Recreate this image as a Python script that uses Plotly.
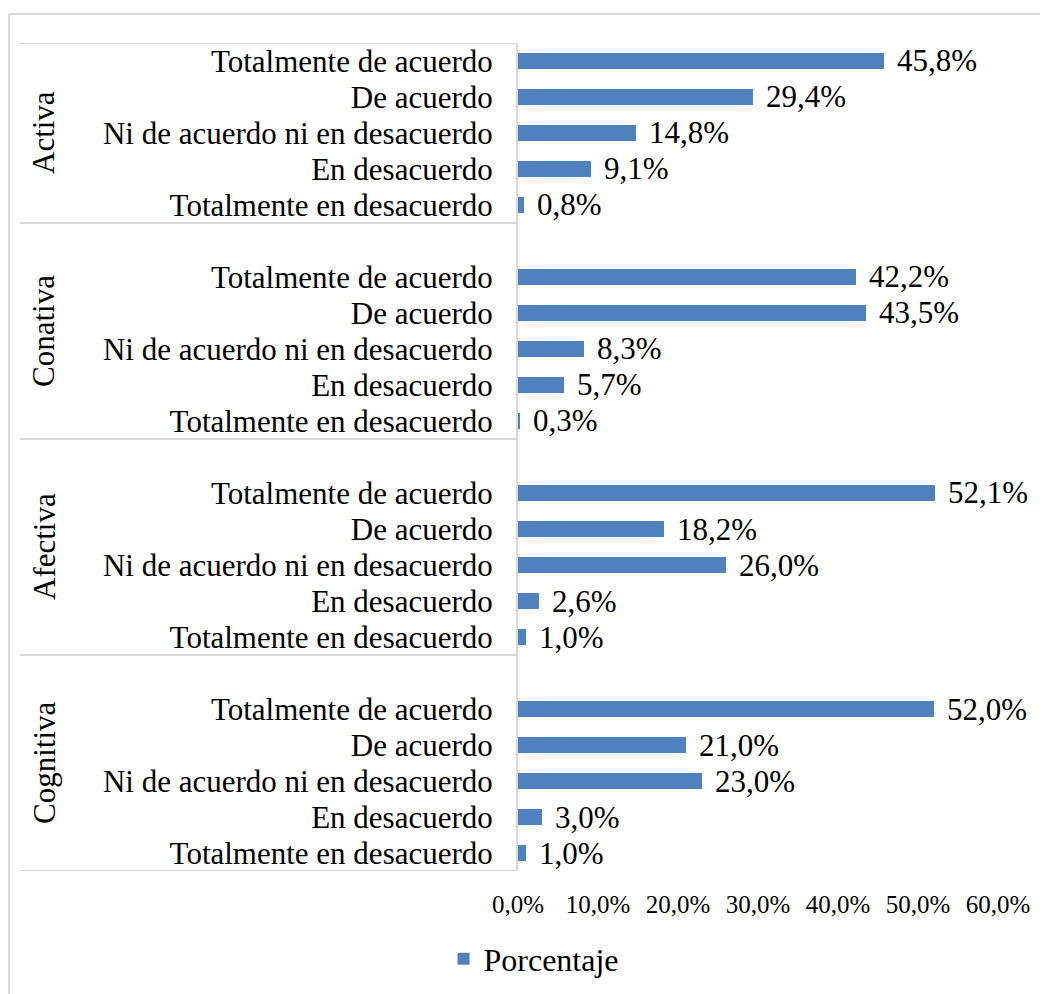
import plotly.graph_objects as go

groups = ["Cognitiva", "Afectiva", "Conativa", "Activa"]
categories = ["Totalmente en desacuerdo", "En desacuerdo",
              "Ni de acuerdo ni en desacuerdo", "De acuerdo",
              "Totalmente de acuerdo"]
cognitiva = [1.0, 3.0, 23.0, 21.0, 52.0]
afectiva = [1.0, 2.6, 26.0, 18.2, 52.1]
conativa = [0.3, 5.7, 8.3, 43.5, 42.2]
activa = [0.8, 9.1, 14.8, 29.4, 45.8]
series_name = "Porcentaje"
x_ticks = [0, 10, 20, 30, 40, 50, 60]

group_values = [cognitiva, afectiva, conativa, activa]

FONT = "Liberation Serif"
BLUE = "#4F81BD"
GRID = "#D9D9D9"
W, H = 1048, 994
OFF = 8  # page body margin offset


def px_x(p):
    return (p - OFF) / W


def px_y(p):
    return 1 - (p - OFF) / H


ys, xs, labels = [], [], []
group_spans = []
pos = 0
for gi, vals in enumerate(group_values):
    start = pos
    for ci, v in enumerate(vals):
        ys.append(pos)
        xs.append(v / 100.0)
        labels.append(categories[ci])
        pos += 1
    end = pos - 1
    if gi < len(group_values) - 1:
        pos += 1  # blank slot
        group_spans.append((start - 0.5, end + 1.5))
    else:
        group_spans.append((start - 0.5, end + 0.5))
ymax = pos - 1

fig = go.Figure()
fig.add_trace(go.Bar(
    x=xs, y=ys, orientation="h", name=series_name,
    marker=dict(color=BLUE, line=dict(width=0)),
    width=0.42, showlegend=True,
))

annotations = []
for x, y in zip(xs, ys):
    annotations.append(dict(
        x=x, y=y, xref="x", yref="y", xanchor="left", yanchor="middle",
        xshift=11, showarrow=False,
        text=f"{x*100:.1f}".replace(".", ",") + "%",
        font=dict(family=FONT, size=31, color="black"),
    ))

x_left = px_x(518)
x_right = px_x(998)
y_bot = px_y(871)
y_top = px_y(43)

shapes = []
shapes.append(dict(type="line", xref="paper", yref="paper",
                   x0=px_x(8) + 1 / W, x1=1.0, y0=px_y(14), y1=px_y(14),
                   line=dict(color=GRID, width=2)))
shapes.append(dict(type="line", xref="paper", yref="paper",
                   x0=px_x(8) + 1 / W, x1=px_x(8) + 1 / W, y0=0, y1=px_y(14),
                   line=dict(color=GRID, width=2)))
boundaries = sorted(set([s for s, e in group_spans] + [e for s, e in group_spans]))
for b in boundaries:
    shapes.append(dict(type="line", xref="paper", yref="y",
                       x0=px_x(20), x1=x_left, y0=b, y1=b,
                       line=dict(color=GRID, width=2)))

for g, (s, e) in zip(groups, group_spans):
    annotations.append(dict(
        x=px_x(44), y=(s + e) / 2, xref="paper", yref="y",
        text=g, textangle=-90, showarrow=False,
        xanchor="center", yanchor="middle",
        font=dict(family=FONT, size=31, color="black"),
    ))

fig.update_layout(
    width=W, height=H, autosize=False,
    margin=dict(l=0, r=0, t=0, b=0, pad=0),
    paper_bgcolor="white", plot_bgcolor="white",
    separators=",.",
    font=dict(family=FONT, color="black"),
    xaxis=dict(
        domain=[x_left, x_right], range=[0, 0.6], automargin=False,
        tickvals=[t / 100 for t in x_ticks], tickformat=".1%",
        showgrid=False, zeroline=False, showline=False,
        ticks="", ticklabelstandoff=16,
        tickfont=dict(family=FONT, size=25, color="black"),
    ),
    yaxis=dict(
        domain=[y_bot, y_top], range=[-0.5, ymax + 0.5], automargin=False,
        tickvals=ys, ticktext=labels,
        showgrid=False, zeroline=False,
        showline=True, linecolor=GRID, linewidth=2,
        ticks="", ticklabelstandoff=17,
        tickfont=dict(family=FONT, size=31, color="black"),
    ),
    legend=dict(
        orientation="h", x=px_x(534), xanchor="center", y=px_y(959),
        yanchor="middle", font=dict(family=FONT, size=32, color="black"),
        bgcolor="rgba(0,0,0,0)",
    ),
    bargap=0,
    shapes=shapes,
    annotations=annotations,
)

fig.write_html("out.html")
